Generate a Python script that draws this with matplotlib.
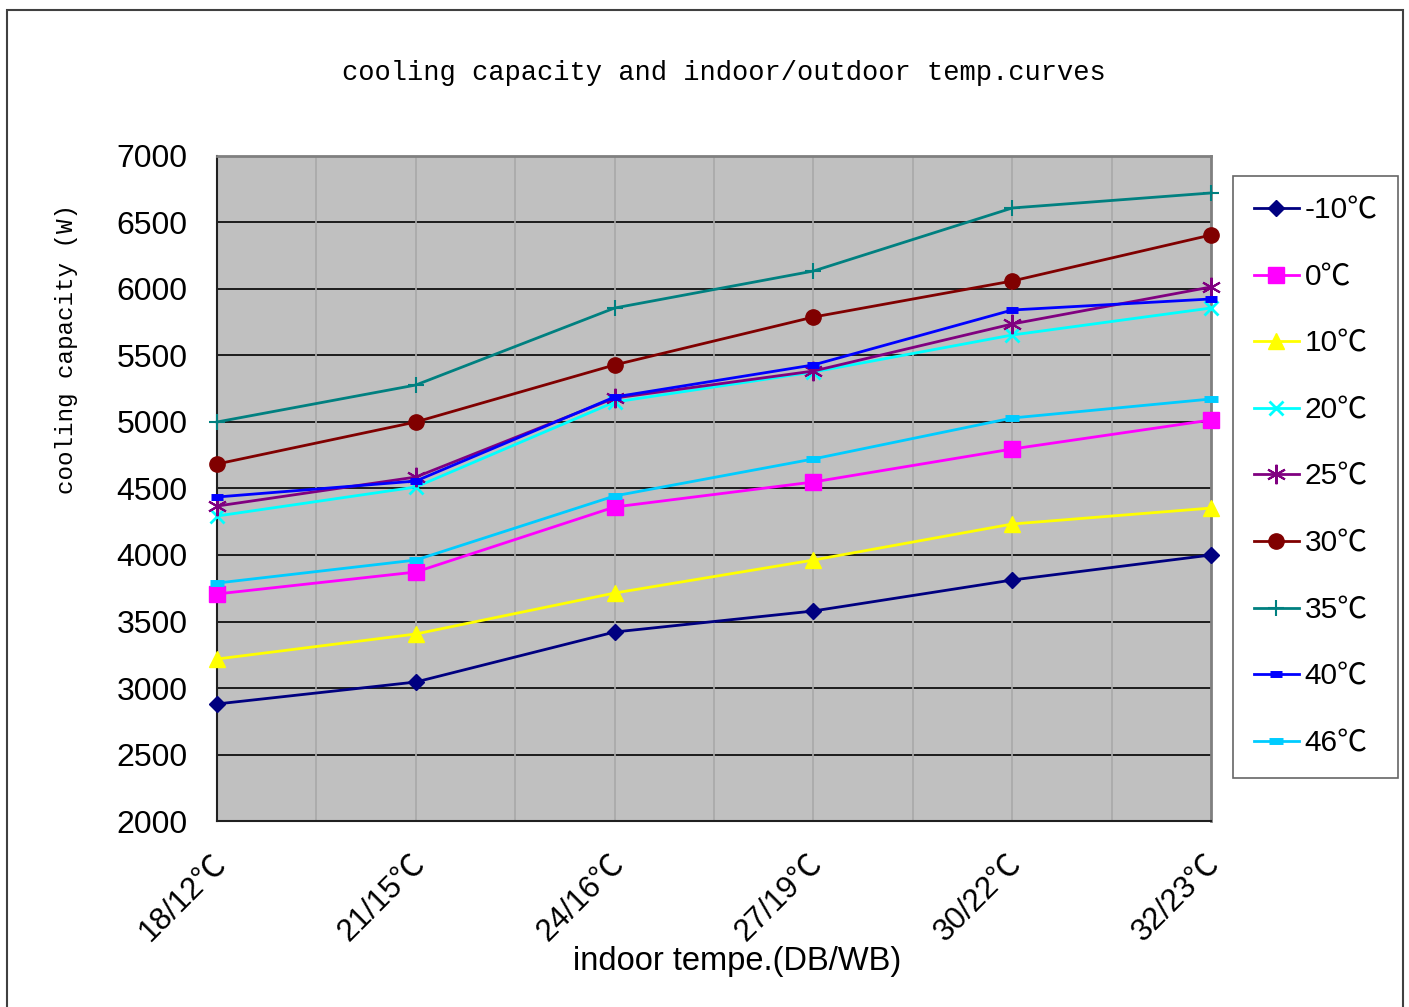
import matplotlib
matplotlib.use("Agg")
import matplotlib.pyplot as plt
from matplotlib.patches import Rectangle
from matplotlib.transforms import ScaledTranslation

# indoor conditions (DB/WB)
categories = ["18/12℃", "21/15℃", "24/16℃", "27/19℃", "30/22℃", "32/23℃"]

# cooling capacity (W) per outdoor temperature
cap_m10 = [2880, 3045, 3421, 3579, 3812, 4000]
cap_0 = [3707, 3872, 4361, 4549, 4797, 5015]
cap_10 = [3218, 3406, 3714, 3962, 4233, 4353]
cap_20 = [4293, 4511, 5150, 5376, 5654, 5857]
cap_25 = [4368, 4586, 5180, 5383, 5737, 6015]
cap_30 = [4684, 5000, 5429, 5789, 6060, 6406]
cap_35 = [5000, 5278, 5857, 6135, 6609, 6722]
cap_40 = [4436, 4556, 5188, 5429, 5842, 5925]
cap_46 = [3789, 3962, 4444, 4722, 5030, 5173]

series_labels = ["-10℃", "0℃", "10℃", "20℃", "25℃", "30℃", "35℃", "40℃", "46℃"]

y_ticks = [2000, 2500, 3000, 3500, 4000, 4500, 5000, 5500, 6000, 6500, 7000]

sans = ["Liberation Sans", "Noto Sans CJK SC", "DejaVu Sans"]
mono = ["Liberation Mono", "DejaVu Sans Mono"]

fig = plt.figure(figsize=(14.09, 10.07), dpi=100)
fig.patches.append(Rectangle((0.005, -0.01), 0.991, 1.0, transform=fig.transFigure,
                             fill=False, edgecolor="#404040", linewidth=1.5))

ax = fig.add_axes([0.154, 0.1847, 0.7055, 0.6604])
ax.set_facecolor("#C0C0C0")

x = list(range(len(categories)))
styles = [
    (cap_m10, "#000080", "D", 8, 1),
    (cap_0, "#FF00FF", "s", 11, 1),
    (cap_10, "#FFFF00", "^", 11, 1),
    (cap_20, "#00FFFF", "x", 10, 2),
    (cap_25, "#800080", (6, 2, 0), 14, 1.5),
    (cap_30, "#800000", "o", 11, 1),
    (cap_35, "#008080", "+", 12, 1.5),
    (cap_40, "#0000FF", "_", 8, 5),
    (cap_46, "#00CCFF", "_", 10, 5),
]
for (vals, col, mk, ms, mew), lab in zip(styles, series_labels):
    ax.plot(x, vals, color=col, marker=mk, markersize=ms, markeredgewidth=mew,
            markerfacecolor=col, markeredgecolor=col, linewidth=2, label=lab,
            clip_on=False, zorder=3)

ax.set_xlim(0, len(categories) - 1)
ax.set_ylim(2000, 7000)
ax.set_yticks(y_ticks)
ax.set_yticklabels([str(v) for v in y_ticks], family=sans, fontsize=23)
ax.set_xticks(x)
ax.set_xticklabels(categories, family=sans, fontsize=22.5, rotation=45,
                   ha="right", va="top", rotation_mode="anchor")
ax.tick_params(axis="y", length=0, pad=21)
ax.tick_params(axis="x", which="both", length=0, pad=20)
shift = ScaledTranslation(-0.06, 0.0, fig.dpi_scale_trans)
for lbl in ax.get_xticklabels():
    lbl.set_transform(lbl.get_transform() + shift)

for v in y_ticks[1:-1]:
    ax.axhline(v, color="black", linewidth=1.2, zorder=1)
for xv in [i * 0.5 for i in range(1, 2 * len(categories) - 2)]:
    ax.axvline(xv, color="#A8A8A8", linewidth=1.2, zorder=1)

for s in ["top", "right"]:
    ax.spines[s].set_color("#808080")
    ax.spines[s].set_linewidth(2)
for s in ["left", "bottom"]:
    ax.spines[s].set_color("#202020")
    ax.spines[s].set_linewidth(1.5)

fig.text(0.514, 0.928, "cooling capacity and indoor/outdoor temp.curves",
         family=mono, fontsize=19.5, ha="center", va="center")
fig.text(0.047, 0.653, "cooling capacity (W)", family=mono, fontsize=17.5,
         rotation=90, ha="center", va="center")
fig.text(0.523, 0.0447, "indoor tempe.(DB/WB)", family=sans, fontsize=23.5,
         ha="center", va="center")

leg = ax.legend(loc="upper left", bbox_to_anchor=(1.022, 0.9705), frameon=True,
                fancybox=False, edgecolor="#404040", prop={"family": sans, "size": 21.5},
                handlelength=1.5, handletextpad=0.2, labelspacing=1.293,
                borderpad=0.7, borderaxespad=0)
leg.get_frame().set_linewidth(1.2)

fig.savefig("out.png", dpi=100)
